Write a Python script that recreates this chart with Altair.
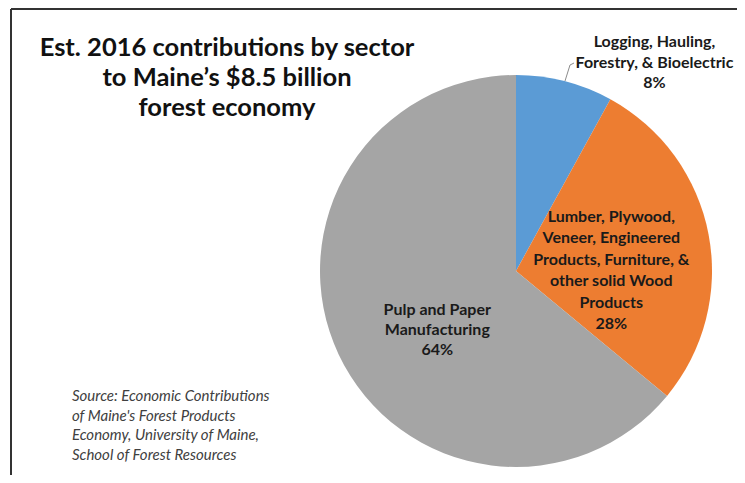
import math
import altair as alt
import pandas as pd

# ---- data ----
sectors = [
    "Logging, Hauling, Forestry, & Bioelectric",
    "Lumber, Plywood, Veneer, Engineered Products, Furniture, & other solid Wood Products",
    "Pulp and Paper Manufacturing",
]
shares = [8, 28, 64]
label_lines = [
    ["Logging, Hauling,", "Forestry, & Bioelectric", "8%"],
    ["Lumber, Plywood,", "Veneer, Engineered", "Products, Furniture, &", "other solid Wood", "Products", "28%"],
    ["Pulp and Paper", "Manufacturing", "64%"],
]
colors = ["#5B9BD5", "#ED7D31", "#A5A5A5"]
title_lines = ["Est. 2016 contributions by sector", "to Maine\u2019s $8.5 billion", "forest economy"]
source_lines = [
    "Source: Economic Contributions",
    "of Maine's Forest Products",
    "Economy, University of Maine,",
    "School of Forest Resources",
]

total = sum(shares)
df = pd.DataFrame({
    "sector": sectors,
    "share": shares,
    "idx": list(range(len(sectors))),
    "label": ["|".join(l) for l in label_lines],
})

CX, CY, R = 508, 263, 196
FONT = "Lato"

theta_scale = alt.Scale(domain=[0, total], range=[0, 2 * math.pi])

arcs = alt.Chart(df).mark_arc(outerRadius=R).encode(
    theta=alt.Theta("share:Q", stack=True, scale=theta_scale),
    color=alt.Color("sector:N", scale=alt.Scale(domain=sectors, range=colors), legend=None),
    order=alt.Order("idx:Q", sort="ascending"),
    x=alt.value(CX),
    y=alt.value(CY),
)

lab_base = alt.Chart(df).transform_window(
    cum="sum(share)", sort=[alt.SortField("idx", order="ascending")], frame=[None, 0]
).transform_calculate(
    mid="datum.cum - datum.share / 2",
    lines="split(datum.label, '|')",
)

label_cfg = [
    # (radius, dx, dy, lineHeight)
    (215, 85, -20.5, 20.5),
    (97, 0, -36, 21.5),
    (87, 0, 2, 20),
]
label_layers = []
for i, (rad, dx, dy, lh) in enumerate(label_cfg):
    label_layers.append(
        lab_base.transform_filter(f"datum.idx == {i}").mark_text(
            radius=rad, dx=dx, dy=dy, font=FONT, fontWeight="bold", fontSize=16,
            lineHeight=lh, align="center", baseline="middle", color="#1a1a1a",
        ).encode(
            theta=alt.Theta("mid:Q", scale=theta_scale),
            text=alt.Text("lines:N"),
            x=alt.value(CX),
            y=alt.value(CY),
        )
    )

# leader line for the small slice
leader = alt.Chart(pd.DataFrame({"a": [0]})).mark_rule(color="#8c8c8c", strokeWidth=1).encode(
    x=alt.value(557), y=alt.value(73), x2=alt.value(562), y2=alt.value(57)
)
leader2 = alt.Chart(pd.DataFrame({"a": [0]})).mark_rule(color="#8c8c8c", strokeWidth=1).encode(
    x=alt.value(562), y=alt.value(57), x2=alt.value(566), y2=alt.value(55)
)

title = alt.Chart(pd.DataFrame({"t": ["|".join(title_lines)]})).transform_calculate(
    lines="split(datum.t, '|')"
).mark_text(
    font=FONT, fontWeight="bold", fontSize=25.5, lineHeight=30, align="center",
    baseline="middle", color="#111111",
).encode(text="lines:N", x=alt.value(219), y=alt.value(40))

source = alt.Chart(pd.DataFrame({"t": ["|".join(source_lines)]})).transform_calculate(
    lines="split(datum.t, '|')"
).mark_text(
    font=FONT, fontStyle="italic", fontSize=15, lineHeight=19.7, align="left",
    baseline="middle", color="#404040",
).encode(text="lines:N", x=alt.value(64), y=alt.value(388))

frame_top = alt.Chart(pd.DataFrame({"a": [0]})).mark_rule(color="#333333", strokeWidth=2).encode(
    x=alt.value(3), x2=alt.value(729), y=alt.value(1)
)
frame_left = alt.Chart(pd.DataFrame({"a": [0]})).mark_rule(color="#333333", strokeWidth=2).encode(
    x=alt.value(3), y=alt.value(1), y2=alt.value(467)
)

chart = alt.layer(
    arcs, *label_layers, leader, leader2, title, source, frame_top, frame_left
).properties(
    width=729, height=467, autosize=alt.AutoSizeParams(type="none"), padding=0,
    background="white",
).configure_view(stroke=None)

chart.save("out.html", embed_options={"renderer": "svg", "actions": False})
